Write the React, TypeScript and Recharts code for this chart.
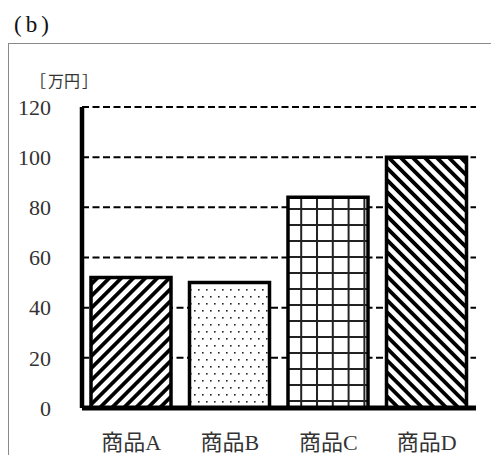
import { BarChart, Bar, XAxis, YAxis, CartesianGrid, Cell } from "recharts";

const categories = ["商品A", "商品B", "商品C", "商品D"];
const sales = [52, 50, 84, 100];
const fills = ["url(#hatchA)", "url(#dotsB)", "url(#gridC)", "url(#hatchD)"];
const yTicks = [0, 20, 40, 60, 80, 100, 120];

const data = categories.map((name, i) => ({ name, value: sales[i] }));

const FONT = '"Liberation Serif", "Noto Sans CJK JP", serif';

export default function App() {
  return (
    <div style={{ position: "absolute", left: 0, top: 0, width: 491, height: 455, background: "#fff", fontFamily: FONT }}>
      <div style={{ position: "absolute", left: 14, top: 12, fontSize: 23, letterSpacing: 4, color: "#111" }}>(b)</div>
      <div
        style={{
          position: "absolute",
          left: 8,
          top: 43,
          width: 483,
          height: 412,
          borderLeft: "1.5px solid #8a8a8a",
          borderTop: "1.5px solid #8a8a8a",
          boxSizing: "border-box",
        }}
      />
      <BarChart
        width={491}
        height={455}
        data={data}
        margin={{ top: 107, right: 15, left: 22, bottom: 0 }}
        style={{ position: "absolute", left: 0, top: 0 }}
      >
        <defs>
          <pattern id="hatchA" patternUnits="userSpaceOnUse" width="8.5" height="8.5" patternTransform="rotate(45)">
            <rect width="8.5" height="8.5" fill="#fff" />
            <rect x="0" y="0" width="3.8" height="8.5" fill="#000" />
          </pattern>
          <pattern id="hatchD" patternUnits="userSpaceOnUse" width="8.5" height="8.5" patternTransform="rotate(-45)">
            <rect width="8.5" height="8.5" fill="#fff" />
            <rect x="0" y="0" width="3.8" height="8.5" fill="#000" />
          </pattern>
          <pattern id="dotsB" patternUnits="userSpaceOnUse" width="8" height="14">
            <rect width="8" height="14" fill="#fff" />
            <rect x="2" y="2" width="1.6" height="1.6" fill="#222" />
            <rect x="6" y="9" width="1.6" height="1.6" fill="#222" />
          </pattern>
          <pattern id="gridC" patternUnits="userSpaceOnUse" width="15.8" height="16">
            <rect width="15.8" height="16" fill="#fff" />
            <rect x="0" y="0" width="2" height="16" fill="#222" />
            <rect x="0" y="0" width="15.8" height="2" fill="#222" />
          </pattern>
        </defs>
        <CartesianGrid vertical={false} stroke="#000" strokeWidth={2} strokeDasharray="7 3.5" />
        <XAxis
          dataKey="name"
          height={47}
          tickLine={false}
          tickSize={0}
          tickMargin={26}
          axisLine={{ stroke: "#000", strokeWidth: 5 }}
          tick={{ fontSize: 22, fill: "#333", fontFamily: FONT }}
        />
        <YAxis
          width={60}
          domain={[0, 120]}
          ticks={yTicks}
          tickLine={false}
          tickSize={0}
          tickMargin={31}
          axisLine={{ stroke: "#000", strokeWidth: 4.5 }}
          tick={{ fontSize: 22, fill: "#333", fontFamily: FONT }}
        />
        <Bar dataKey="value" barSize={80} stroke="#000" strokeWidth={3.5} isAnimationActive={false}>
          {data.map((d, i) => (
            <Cell key={d.name} fill={fills[i]} />
          ))}
        </Bar>
      </BarChart>
      <div
        style={{
          position: "absolute",
          left: 30,
          top: 68,
          fontSize: 16,
          color: "#333",
          fontFamily: '"Noto Sans CJK JP"',
          whiteSpace: "nowrap",
        }}
      >
        <span style={{ marginRight: 2 }}>［</span>万円<span style={{ marginLeft: 2 }}>］</span>
      </div>
    </div>
  );
}
